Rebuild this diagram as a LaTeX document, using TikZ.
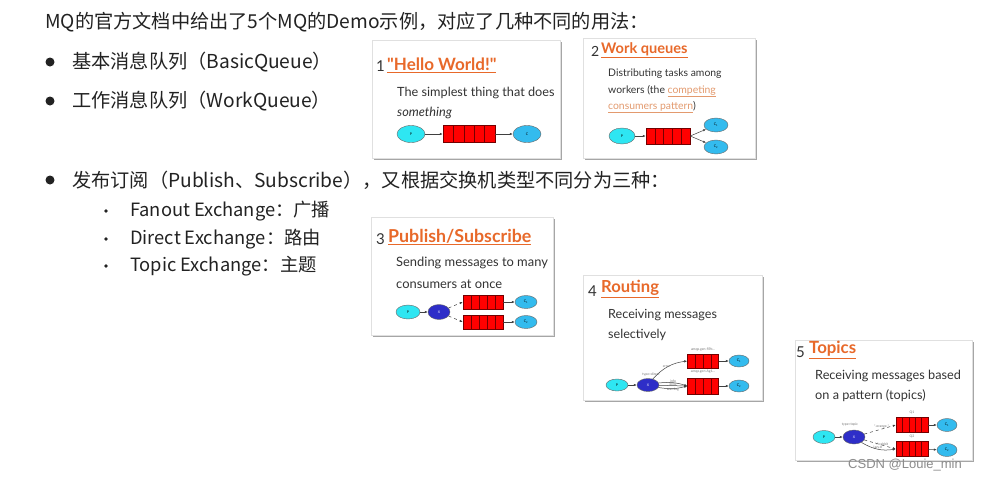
\documentclass[tikz,border=0pt]{standalone}
\usepackage{fontspec}
\setmainfont{Lato}
\newfontfamily\latoplain{Lato}[Ligatures=ResetAll]
\newfontfamily\cjk{Noto Sans CJK SC}
\newfontfamily\wmfont{Liberation Sans}
\usetikzlibrary{shapes.geometric,shadows,calc,arrows.meta}
\definecolor{rmqorange}{HTML}{E8692A}
\definecolor{linkorange}{HTML}{E39A6E}
\definecolor{pcyan}{HTML}{2EE6F2}
\definecolor{csky}{HTML}{33BBEE}
\definecolor{xblue}{HTML}{2E2EC8}
\definecolor{maintext}{HTML}{222222}
\definecolor{cardtext}{HTML}{333333}
\tikzset{
  maintxt/.style={anchor=west, inner sep=0pt, text=maintext, font=\cjk\fontsize{19.2}{22}\selectfont},
  subtxt/.style={anchor=west, inner sep=0pt, text=maintext, font=\cjk\fontsize{18.3}{21}\selectfont},
  bigdot/.style={circle, fill=maintext, inner sep=0pt, minimum size=9pt},
  smalldot/.style={circle, fill=maintext, inner sep=0pt, minimum size=3.6pt},
  card/.style={rectangle, draw=black!12, fill=white, inner sep=0pt, anchor=north west,
    drop shadow={shadow xshift=1.5pt, shadow yshift=-1.5pt, opacity=.35, fill=black}},
  cnum/.style={anchor=west, inner sep=0pt, text=cardtext, font=\fontsize{15}{16}\selectfont},
  ctitle/.style={anchor=west, inner sep=0pt, text=rmqorange},
  ctext/.style={anchor=west, inner sep=0pt, text=cardtext},
  pnode/.style={ellipse, draw=black!60, fill=pcyan, inner sep=0pt, font=\fontsize{3.5}{4}\selectfont},
  cnode/.style={ellipse, draw=black!60, fill=csky, inner sep=0pt, font=\fontsize{3.5}{4}\selectfont},
  xnode/.style={ellipse, draw=black!60, fill=xblue, inner sep=0pt, text=white, font=\fontsize{3.5}{4}\selectfont},
  queue/.style={rectangle, draw=red!45!black, fill=red, inner sep=0pt, line width=.5pt,
    path picture={\pgfmathtruncatemacro\qn{#1-1}\foreach \k in {1,...,\qn}{\draw[red!45!black,line width=.45pt] ($(path picture bounding box.south west)!\k/#1!(path picture bounding box.south east)$) -- ($(path picture bounding box.north west)!\k/#1!(path picture bounding box.north east)$);}}},
  queue/.default=5,
  flow/.style={draw=black!75, line width=.5pt, -{Latex[length=3pt,width=2.4pt]}},
  tiny/.style={inner sep=0pt, text=black!55, font=\fontsize{3.4}{4}\selectfont},
}
\begin{document}
\begin{tikzpicture}[x=1pt,y=-1pt]
\useasboundingbox[fill=white] (0,0) rectangle (982,480);

% ---------- left text ----------
\node[maintxt] (head) at (45,22) {MQ的官方文档中给出了5个MQ的Demo示例，对应了几种不同的用法：};
\node[bigdot] (b1) at (50,62) {};
\node[maintxt] (t1) at (72,62) {基本消息队列（BasicQueue）};
\node[bigdot] (b2) at (50,101) {};
\node[maintxt] (t2) at (72,101) {工作消息队列（WorkQueue）};
\node[bigdot] (b3) at (50,180) {};
\node[maintxt] (t3) at (72,180) {发布订阅（Publish、Subscribe），又根据交换机类型不同分为三种：};
\node[smalldot] (s1) at (106,211) {};
\node[subtxt] (u1) at (130,211) {Fanout Exchange：广播};
\node[smalldot] (s2) at (106,239) {};
\node[subtxt] (u2) at (130,239) {Direct Exchange：路由};
\node[smalldot] (s3) at (106,266) {};
\node[subtxt] (u3) at (130,266) {Topic Exchange：主题};

% ---------- card 1 ----------
\node[card, minimum width=188pt, minimum height=118pt] (card1) at (372,40) {};
\node[cnum] (n1) at (376,66) {1};
\node[ctitle, font=\latoplain\bfseries\fontsize{17}{18}\selectfont] (h1) at (387,65) {\underline{"Hello World!"}};
\node[ctext, font=\fontsize{12.7}{14}\selectfont] (d1a) at (397,93) {The simplest thing that does};
\node[ctext, font=\itshape\fontsize{12.7}{14}\selectfont] (d1b) at (397,113) {something};
\node[pnode, minimum width=28pt, minimum height=17pt] (p1) at (411,134) {P};
\node[queue, minimum width=52pt, minimum height=17pt] (q1) at (469,134) {};
\node[cnode, minimum width=28pt, minimum height=17pt] (c1) at (527,134) {C};
\draw[flow] (p1) -- (q1);
\draw[flow] (q1) -- (c1);

% ---------- card 2 ----------
\node[card, minimum width=172pt, minimum height=120pt] (card2) at (583,38) {};
\node[cnum, font=\fontsize{14}{16}\selectfont] (n2) at (591,51) {2};
\node[ctitle, font=\bfseries\fontsize{14.6}{16}\selectfont] (h2) at (601,50) {\underline{Work queues}};
\node[ctext, font=\fontsize{10.4}{12}\selectfont] (d2a) at (608,74) {Distributing tasks among};
\node[ctext, font=\fontsize{10.4}{12}\selectfont] (d2b) at (608,91) {workers (the \textcolor{linkorange}{\underline{competing}}};
\node[ctext, font=\fontsize{10.4}{12}\selectfont] (d2c) at (608,107) {\textcolor{linkorange}{\underline{consumers pattern}})};
\node[pnode, minimum width=26pt, minimum height=16pt] (p2) at (622,136) {P};
\node[queue, minimum width=44pt, minimum height=16pt] (q2) at (668,136) {};
\node[cnode, minimum width=24pt, minimum height=14pt] (c21) at (716,125) {C\textsubscript{1}};
\node[cnode, minimum width=24pt, minimum height=14pt] (c22) at (716,147) {C\textsubscript{2}};
\draw[flow] (p2) -- (q2);
\draw[flow] (q2.east) -- (c21);
\draw[flow] (q2.east) -- (c22);

% ---------- card 3 ----------
\node[card, minimum width=182pt, minimum height=118pt] (card3) at (371,217) {};
\node[cnum] (n3) at (376,239) {3};
\node[ctitle, font=\bfseries\fontsize{17.8}{19}\selectfont] (h3) at (388,237) {\underline{Publish/Subscribe}};
\node[ctext, font=\fontsize{12.9}{14}\selectfont] (d3a) at (396,263) {Sending messages to many};
\node[ctext, font=\fontsize{12.9}{14}\selectfont] (d3b) at (396,284) {consumers at once};
\node[pnode, minimum width=24pt, minimum height=14pt] (p3) at (408,312) {P};
\node[xnode, minimum width=22pt, minimum height=15pt] (x3) at (439,312) {X};
\node[queue, minimum width=40pt, minimum height=14pt] (q31) at (483,302) {};
\node[queue, minimum width=40pt, minimum height=14pt] (q32) at (483,322) {};
\node[cnode, minimum width=22pt, minimum height=13pt] (c31) at (526,302) {C\textsubscript{1}};
\node[cnode, minimum width=22pt, minimum height=13pt] (c32) at (526,322) {C\textsubscript{2}};
\draw[flow] (p3) -- (x3);
\draw[flow, dashed] (x3) -- (q31.west);
\draw[flow, dashed] (x3) -- (q32.west);
\draw[flow] (q31) -- (c31);
\draw[flow] (q32) -- (c32);

% ---------- card 4 ----------
\node[card, minimum width=179pt, minimum height=125pt] (card4) at (583,275) {};
\node[cnum] (n4) at (588,291) {4};
\node[ctitle, font=\bfseries\fontsize{16.6}{18}\selectfont] (h4) at (601,289) {\underline{Routing}};
\node[ctext, font=\fontsize{12.6}{14}\selectfont] (d4a) at (608,315) {Receiving messages};
\node[ctext, font=\fontsize{12.6}{14}\selectfont] (d4b) at (608,335) {selectively};
\node[pnode, minimum width=22pt, minimum height=12pt] (p4) at (617,385) {P};
\node[xnode, minimum width=22pt, minimum height=13pt] (x4) at (648,385) {X};
\node[queue=4, minimum width=31pt, minimum height=14pt] (q41) at (703,361) {};
\node[queue=4, minimum width=31pt, minimum height=16pt] (q42) at (703,386) {};
\node[cnode, minimum width=20pt, minimum height=12pt] (c41) at (739,361) {C\textsubscript{1}};
\node[cnode, minimum width=20pt, minimum height=12pt] (c42) at (739,386) {C\textsubscript{2}};
\node[tiny] (l41) at (703,350) {amqp.gen-S9b...};
\node[tiny] (l42) at (703,372) {amqp.gen-Ag1...};
\node[tiny] (l43) at (651,375) {type=direct};
\draw[flow] (p4) -- (x4);
\draw[flow] (x4) to[bend left=20] node[tiny, pos=.45, above] {error} (q41.west);
\draw[flow] (x4) to[bend left=12] node[tiny, pos=.5, above=-.5pt] {info} (q42.west);
\draw[flow] (x4) -- node[tiny, pos=.5, above=-.5pt] {error} (q42.west);
\draw[flow] (x4) to[bend right=12] node[tiny, pos=.5, below=-.5pt] {warning} (q42.west);
\draw[flow] (q41) -- (c41);
\draw[flow] (q42) -- (c42);

% ---------- card 5 ----------
\node[card, minimum width=177pt, minimum height=120pt] (card5) at (795,340) {};
\node[cnum] (n5) at (796,352) {5};
\node[ctitle, font=\bfseries\fontsize{16.8}{18}\selectfont] (h5) at (809,350) {\underline{Topics}};
\node[ctext, font=\fontsize{12.7}{14}\selectfont] (d5a) at (815,376) {Receiving messages based};
\node[ctext, font=\fontsize{12.7}{14}\selectfont] (d5b) at (815,396) {on a pattern (topics)};
\node[pnode, minimum width=22pt, minimum height=13pt] (p5) at (824,437) {P};
\node[xnode, minimum width=22pt, minimum height=14pt] (x5) at (854,437) {X};
\node[queue, minimum width=32pt, minimum height=15pt] (q51) at (912,425) {};
\node[queue, minimum width=32pt, minimum height=15pt] (q52) at (912,449) {};
\node[cnode, minimum width=20pt, minimum height=13pt] (c51) at (947,425) {C\textsubscript{1}};
\node[cnode, minimum width=20pt, minimum height=13pt] (c52) at (947,450) {C\textsubscript{2}};
\node[tiny] (l51) at (912,413) {Q1};
\node[tiny] (l52) at (912,437) {Q2};
\node[tiny] (l53) at (850,425) {type=topic};
\draw[flow] (p5) -- (x5);
\draw[flow, dashed] (x5) -- node[tiny, pos=.55, above=.3pt] {*.orange.*} (q51.west);
\draw[flow, dashed] (x5) -- node[tiny, pos=.55, above=-.5pt] {*.*.rabbit} (q52.west);
\draw[flow] (x5) to[bend right=20] node[tiny, pos=.5, above=-.5pt] {lazy.\#} (q52.west);
\draw[flow] (q51) -- (c51);
\draw[flow] (q52) -- (c52);

% ---------- watermark ----------
\node[inner sep=0pt, text=black!45, font=\wmfont\fontsize{13}{14}\selectfont] (wm) at (905,465) {CSDN @Louie\_min};
\end{tikzpicture}
\end{document}
